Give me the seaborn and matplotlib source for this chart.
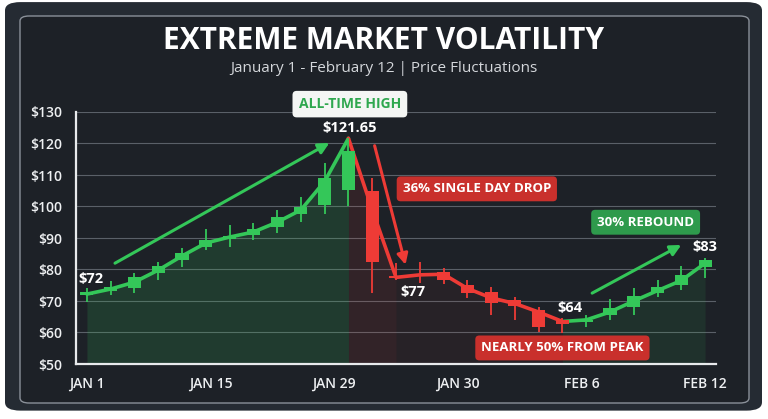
import numpy as np
import pandas as pd
import matplotlib.pyplot as plt
import seaborn as sns
from matplotlib.patches import FancyBboxPatch

# candle data
opens = [72.0, 73.2, 74.2, 79.0, 83.0, 87.1, 89.7, 91.0, 93.5, 97.6, 100.5, 105.2,
         105.0, 77.8, 78.4, 79.2, 75.0, 72.9, 70.3, 67.0, 64.0,
         63.3, 65.6, 68.1, 72.5, 75.0, 80.8]
closes = [73.0, 74.5, 77.6, 81.0, 85.2, 89.4, 90.6, 92.8, 96.7, 99.8, 109.0, 117.6,
          82.4, 77.2, 78.0, 76.7, 72.5, 69.4, 68.4, 61.7, 62.7,
          64.0, 67.8, 71.6, 74.4, 78.2, 83.0]
highs = [74.0, 76.3, 79.0, 82.4, 86.8, 92.8, 94.0, 94.8, 98.9, 103.0, 113.8, 121.65,
         109.0, 82.0, 82.4, 80.5, 76.7, 74.4, 71.3, 68.0, 64.6,
         65.5, 70.6, 74.0, 76.7, 81.0, 83.5]
lows = [69.8, 72.0, 72.5, 76.7, 80.8, 86.2, 87.0, 89.4, 91.6, 95.0, 97.6, 100.0,
        72.5, 76.7, 75.7, 75.5, 71.0, 65.6, 64.0, 60.2, 59.8,
        61.8, 64.0, 65.6, 71.3, 73.5, 77.3]
trend = [72.2, 73.8, 76.0, 79.8, 84.3, 88.4, 90.3, 91.9, 95.0, 98.9, 108.0, 121.65,
         99.0, 77.5, 78.3, 78.5, 74.0, 71.0, 69.2, 66.5, 63.5,
         64.0, 66.5, 70.0, 73.3, 76.5, 82.0]
tick_labels = ['JAN 1', 'JAN 15', 'JAN 29', 'JAN 30', 'FEB 6', 'FEB 12']
y_ticks = [50, 60, 70, 80, 90, 100, 110, 120, 130]

GREEN = '#34c759'
RED = '#ee3b36'
TEXT = '#eef0f2'

df = pd.DataFrame({'day': range(len(opens)), 'open': opens, 'close': closes,
                   'high': highs, 'low': lows, 'trend': trend})
df['up'] = df['close'] >= df['open']

sns.set_theme(style='dark')
plt.rcParams['font.family'] = ['Open Sans', 'DejaVu Sans']

fig = plt.figure(figsize=(7.68, 4.19), dpi=100, facecolor='white')
# card background + inner border (behind the axes)
fig.patches.append(FancyBboxPatch((5 / 768, 0.02), 757 / 768, 0.975,
                                  boxstyle='round,pad=0,rounding_size=0.02',
                                  transform=fig.transFigure, fc='#252b33', ec='none',
                                  zorder=-2))
fig.patches.append(FancyBboxPatch((20 / 768, 16 / 419), 729 / 768, 387 / 419,
                                  boxstyle='round,pad=0,rounding_size=0.012',
                                  transform=fig.transFigure, fc='#1d2127',
                                  ec='#8a9099', lw=1.0, zorder=-1))

ax = fig.add_axes([76 / 768, 1 - 364 / 419, 640 / 768, 252 / 419])
ax.set_facecolor('none')

# shaded areas under the trend line
seg_up1 = df.iloc[:12]
seg_drop = df.iloc[11:14]
seg_dn = df.iloc[13:21]
seg_up2 = df.iloc[20:]
ax.fill_between(seg_up1['day'], 50, seg_up1['trend'], color=GREEN, alpha=0.16, lw=0)
ax.fill_between(seg_drop['day'], 50, seg_drop['trend'], color=RED, alpha=0.10, lw=0)
ax.fill_between(seg_dn['day'], 50, seg_dn['trend'], color=RED, alpha=0.05, lw=0)
ax.fill_between(seg_up2['day'], 50, seg_up2['trend'], color=GREEN, alpha=0.10, lw=0)

# trend line
for seg, col in [(seg_up1, GREEN), (df.iloc[11:21], RED), (seg_up2, GREEN)]:
    sns.lineplot(data=seg, x='day', y='trend', color=col, lw=2.6, ax=ax,
                 solid_capstyle='round', zorder=3)

# candles
for up, col in [(True, GREEN), (False, RED)]:
    sub = df[df['up'] == up]
    ax.vlines(sub['day'], sub['low'], sub['high'], color=col, lw=1.3, zorder=4)
    bottom = sub[['open', 'close']].min(axis=1)
    height = (sub['close'] - sub['open']).abs().clip(lower=0.6)
    ax.bar(sub['day'], height, bottom=bottom, width=0.55, color=col,
           edgecolor=col, linewidth=0, zorder=5)

ax.set_xlim(-0.46, 26.46)
ax.set_ylim(50, 130)
ax.set_yticks(y_ticks)
ax.set_yticklabels([f'${v}' for v in y_ticks])
ax.set_xticks(np.linspace(0, 26, len(tick_labels)))
ax.set_xticklabels(tick_labels)
ax.tick_params(axis='both', colors=TEXT, labelsize=10, length=0)
ax.tick_params(axis='y', pad=10)
ax.tick_params(axis='x', pad=9)
for lab in ax.get_xticklabels() + ax.get_yticklabels():
    lab.set_fontweight('semibold')
ax.set_xlabel('')
ax.set_ylabel('')
ax.grid(axis='y', color='#5a6068', lw=0.8)
ax.grid(axis='x', visible=False)
for s in ['top', 'right']:
    ax.spines[s].set_visible(False)
for s in ['left', 'bottom']:
    ax.spines[s].set_visible(True)
    ax.spines[s].set_color('#e8eaec')
    ax.spines[s].set_linewidth(1.6)

# annotations
def box(x, y, txt, fc, tc, size=9.5):
    ax.text(x, y, txt, ha='center', va='center', fontsize=size, fontweight='bold',
            color=tc, zorder=8, clip_on=False,
            bbox=dict(boxstyle='round,pad=0.45,rounding_size=0.3', fc=fc, ec='none'))

box(11.06, 132.5, 'ALL-TIME HIGH', '#f4f6f4', '#2fa84f', size=10)
box(16.4, 105.6, '36% SINGLE DAY DROP', '#c9302c', 'white')
box(20.0, 55.1, 'NEARLY 50% FROM PEAK', '#c9302c', 'white')
box(23.5, 95.0, '30% REBOUND', '#2e9a4c', 'white')

lbl = dict(color='white', fontsize=10.5, fontweight='bold', zorder=8)
ax.text(11.06, 124.8, '$121.65', ha='center', va='center', **lbl)
ax.text(-0.35, 77.0, '$72', ha='left', va='center', **lbl)
ax.text(13.2, 72.9, '$77', ha='left', va='center', **lbl)
ax.text(20.3, 67.8, '$64', ha='center', va='center', **lbl)
ax.text(26.0, 87.3, '$83', ha='center', va='center', **lbl)

arrow = dict(arrowstyle='-|>', lw=2.2, mutation_scale=16, shrinkA=0, shrinkB=0)
ax.annotate('', xy=(10.2, 120.2), xytext=(1.18, 82.0),
            arrowprops=dict(color=GREEN, **arrow), zorder=6)
ax.annotate('', xy=(13.4, 81.5), xytext=(12.1, 119.3),
            arrowprops=dict(color=RED, **arrow), zorder=6)
ax.annotate('', xy=(25.0, 87.8), xytext=(21.25, 72.5),
            arrowprops=dict(color=GREEN, **arrow), zorder=6)

fig.text(0.5, 1 - 41 / 419, 'EXTREME MARKET VOLATILITY', ha='center', va='center',
         fontsize=21.5, fontweight='bold', color='white')
fig.text(0.5, 1 - 68 / 419, 'January 1 - February 12 | Price Fluctuations', ha='center',
         va='center', fontsize=11, color='#d4d7db')

fig.savefig('out.png', dpi=100, facecolor=fig.get_facecolor())
